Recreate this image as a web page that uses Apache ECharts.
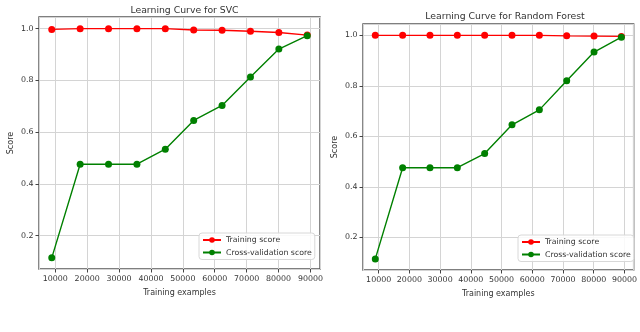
<!DOCTYPE html>
<html><head><meta charset="utf-8">
<script src="https://cdn.jsdelivr.net/npm/echarts@6/dist/echarts.min.js"></script>
<style>html,body{margin:0;padding:0;background:#fff}#c{width:640px;height:332px}</style>
</head><body><div id="c"></div>
<script>
const trainSizes = [8900, 17800, 26700, 35600, 44500, 53400, 62300, 71200, 80100, 89000];
const svcTrain = [0.997, 1.0, 1.0, 1.0, 1.0, 0.995, 0.994, 0.990, 0.985, 0.975];
const svcCV = [0.114, 0.476, 0.476, 0.476, 0.534, 0.645, 0.703, 0.813, 0.921, 0.973];
const rfTrain = [1.0, 1.0, 1.0, 1.0, 1.0, 1.0, 1.0, 0.998, 0.997, 0.996];
const rfCV = [0.115, 0.476, 0.476, 0.476, 0.532, 0.646, 0.705, 0.820, 0.934, 0.993];
const titles = ['Learning Curve for SVC', 'Learning Curve for Random Forest'];
const seriesNames = ['Training score', 'Cross-validation score'];

const FONT = 'DejaVu Sans';
const TXT = '#333';
function pairs(xs, ys) { return xs.map((x, i) => [x, ys[i]]); }

function xAxis(gi) {
  return {
    type: 'value', gridIndex: gi, min: 4900, max: 93000, splitNumber: 9,
    name: 'Training examples', nameLocation: 'middle', nameGap: 20,
    nameTextStyle: { fontFamily: FONT, fontSize: 8, color: TXT },
    axisLine: { show: false },
    axisTick: { show: true, length: 3.5, lineStyle: { color: '#444', width: 1 } },
    axisLabel: { fontFamily: FONT, fontSize: 7.9, color: TXT, margin: 6, showMinLabel: false, showMaxLabel: false,
      formatter: v => String(Math.round(v)) },
    splitLine: { show: true, lineStyle: { color: '#d4d4d4', width: 1 } }
  };
}
function yAxis(gi) {
  return {
    type: 'value', gridIndex: gi, min: 0.071, max: 1.045, splitNumber: 5,
    name: 'Score', nameLocation: 'middle', nameGap: 24, nameRotate: 90,
    nameTextStyle: { fontFamily: FONT, fontSize: 8, color: TXT },
    axisLine: { show: false },
    axisTick: { show: true, length: 3.5, lineStyle: { color: '#444', width: 1 } },
    axisLabel: { fontFamily: FONT, fontSize: 7.9, color: TXT, margin: 5.5, showMinLabel: false, showMaxLabel: false,
      formatter: v => v.toFixed(1) },
    splitLine: { show: true, lineStyle: { color: '#d4d4d4', width: 1 } }
  };
}
function line(name, gi, data, color) {
  return {
    type: 'line', name: name, xAxisIndex: gi, yAxisIndex: gi, data: data,
    symbol: 'circle', symbolSize: 7, showSymbol: true,
    lineStyle: { color: color, width: 1.4 }, itemStyle: { color: color },
    animation: false, z: 3
  };
}
function legend(left, top) {
  return {
    data: seriesNames, orient: 'vertical', left: left, top: top,
    itemWidth: 18, itemHeight: 7, itemGap: 4.5,
    textStyle: { fontFamily: FONT, fontSize: 7.8, color: TXT },
    backgroundColor: 'rgba(255,255,255,0.85)', borderColor: '#d8d8d8', borderWidth: 1, borderRadius: 3,
    padding: [3, 3, 3, 3]
  };
}

const chart = echarts.init(document.getElementById('c'), null, { renderer: 'canvas' });
chart.setOption({
  backgroundColor: '#fff',
  animation: false,
  title: [
    { text: titles[0], left: 179.5, top: 1, textAlign: 'center',
      textStyle: { fontFamily: FONT, fontSize: 9.3, fontWeight: 'normal', color: TXT } },
    { text: titles[1], left: 500, top: 7, textAlign: 'center',
      textStyle: { fontFamily: FONT, fontSize: 9.3, fontWeight: 'normal', color: TXT } }
  ],
  grid: [
    { left: 39, top: 17, width: 281, height: 252, show: true, borderColor: '#555', borderWidth: 1.4, backgroundColor: 'transparent' },
    { left: 363, top: 24, width: 273, height: 246, show: true, borderColor: '#555', borderWidth: 1.4, backgroundColor: 'transparent' }
  ],
  legend: [legend(199, 233), legend(518, 235)],
  xAxis: [xAxis(0), xAxis(1)],
  yAxis: [yAxis(0), yAxis(1)],
  series: [
    line(seriesNames[0], 0, pairs(trainSizes, svcTrain), '#ff0000'),
    line(seriesNames[1], 0, pairs(trainSizes, svcCV), '#008000'),
    line(seriesNames[0], 1, pairs(trainSizes, rfTrain), '#ff0000'),
    line(seriesNames[1], 1, pairs(trainSizes, rfCV), '#008000')
  ]
});
</script></body></html>
